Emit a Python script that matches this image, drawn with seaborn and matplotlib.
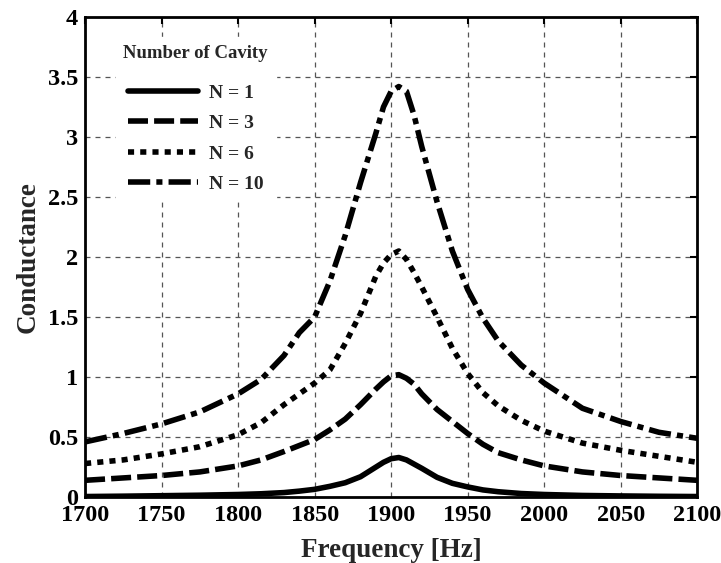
import numpy as np
import pandas as pd
import matplotlib
matplotlib.use("Agg")
import matplotlib.pyplot as plt
from matplotlib.ticker import FuncFormatter
import seaborn as sns

# Frequency sweep [Hz]
freq = [1700, 1725, 1750, 1775, 1800, 1815, 1830, 1840, 1850, 1860,
        1870, 1880, 1890, 1895, 1900, 1905, 1910, 1915, 1920, 1930,
        1940, 1950, 1960, 1970, 1985, 2000, 2025, 2050, 2075, 2100]

# Conductance for each number of cavities
g_n1 = [0.005, 0.008, 0.012, 0.016, 0.022, 0.028, 0.038, 0.050, 0.065, 0.090,
        0.120, 0.170, 0.250, 0.290, 0.320, 0.330, 0.310, 0.275, 0.240, 0.165,
        0.115, 0.085, 0.060, 0.045, 0.030, 0.022, 0.014, 0.010, 0.007, 0.005]
g_n3 = [0.14, 0.16, 0.18, 0.21, 0.26, 0.31, 0.38, 0.43, 0.48, 0.56,
        0.65, 0.77, 0.90, 0.96, 1.01, 1.02, 0.99, 0.94, 0.86, 0.73,
        0.63, 0.53, 0.44, 0.37, 0.31, 0.26, 0.21, 0.18, 0.16, 0.14]
g_n6 = [0.28, 0.31, 0.36, 0.42, 0.52, 0.62, 0.77, 0.86, 0.95, 1.06,
        1.28, 1.53, 1.84, 1.95, 2.02, 2.05, 1.98, 1.87, 1.75, 1.50,
        1.24, 1.03, 0.87, 0.76, 0.64, 0.55, 0.45, 0.39, 0.34, 0.29]
g_n10 = [0.46, 0.53, 0.61, 0.71, 0.86, 0.98, 1.18, 1.37, 1.50, 1.80,
         2.18, 2.62, 3.03, 3.25, 3.38, 3.42, 3.38, 3.18, 2.92, 2.46,
         2.05, 1.73, 1.49, 1.30, 1.10, 0.95, 0.74, 0.63, 0.54, 0.49]

labels = ["N = 1", "N = 3", "N = 6", "N = 10"]
series = [g_n1, g_n3, g_n6, g_n10]
x_ticks = [1700, 1750, 1800, 1850, 1900, 1950, 2000, 2050, 2100]
y_ticks = [0, 0.5, 1, 1.5, 2, 2.5, 3, 3.5, 4]

sns.set_theme(style="white")
plt.rcParams["font.family"] = ["Liberation Serif", "DejaVu Serif"]
plt.rcParams["font.weight"] = "bold"
plt.rcParams["axes.labelweight"] = "bold"

styles = ["-", (0, (3.6, 1.1)), (0, (1.1, 1.1)), (0, (4.0, 1.1, 1.1, 1.1))]

fig = plt.figure(figsize=(7.21, 5.63), dpi=100)
ax = fig.add_axes([0.118, 0.117, 0.849, 0.853])

for lab, vals, ls in zip(labels, series, styles):
    df = pd.DataFrame({"Frequency": freq, "Conductance": vals})
    sns.lineplot(data=df, x="Frequency", y="Conductance", ax=ax, color="black",
                 linewidth=4.0, linestyle=ls, label=lab, zorder=3,
                 solid_joinstyle="round", dash_joinstyle="round")

ax.set_xlim(1700, 2100)
ax.set_ylim(0, 4)
ax.set_xticks(x_ticks)
ax.set_yticks(y_ticks)
ax.yaxis.set_major_formatter(FuncFormatter(lambda v, p: f"{v:g}"))
ax.grid(True, color="#555555", linestyle=(0, (4, 4)), linewidth=0.9)
ax.set_axisbelow(True)

for s in ax.spines.values():
    s.set_visible(True)
    s.set_color("black")
    s.set_linewidth(2.0)

ax.tick_params(axis="both", direction="in", length=5, width=1.5,
               top=True, right=True, labelsize=17.5, colors="black")
ax.tick_params(axis="x", pad=6)
ax.tick_params(axis="y", pad=5)
for t in ax.get_xticklabels() + ax.get_yticklabels():
    t.set_fontweight("bold")

ax.set_xlabel("Frequency [Hz]", fontsize=19.5, fontweight="bold", labelpad=8)
ax.set_ylabel("Conductance", fontsize=19.5, fontweight="bold", labelpad=5)

leg = ax.legend(title="Number of Cavity", loc="upper left",
                bbox_to_anchor=(0.05, 0.958), frameon=True,
                prop={"size": 14, "weight": "bold"},
                title_fontproperties={"size": 13.5, "weight": "bold"},
                handlelength=3.6, handletextpad=0.55, labelspacing=0.66,
                borderaxespad=0.0)
# extra room between the legend title and its entries
leg._legend_box.sep = 16
frame = leg.get_frame()
frame.set_facecolor("white")
frame.set_edgecolor("white")
frame.set_alpha(1.0)

fig.savefig("out.png", dpi=100)
